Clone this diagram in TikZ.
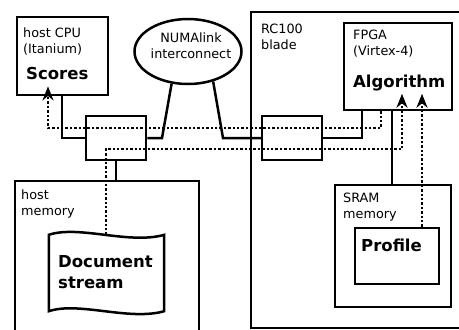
\documentclass[tikz,border=0pt]{standalone}
\usepackage{fontspec}
\setmainfont{DejaVu Sans}
\usetikzlibrary{shapes.geometric,arrows.meta,calc}
\begin{document}
\begin{tikzpicture}[x=1pt,y=-1pt,
  box/.style={draw, line width=2.5pt, rectangle, inner sep=0pt},
  txt/.style={font=\fontsize{12.8}{16}\selectfont, align=left, anchor=base west, inner sep=0pt},
  big/.style={font=\fontsize{16.5}{21}\selectfont\bfseries, align=left, anchor=base west, inner xsep=0pt, inner ysep=0pt},
  wire/.style={line width=2.5pt},
  dotline/.style={line width=2.7pt, dash pattern=on 2.4pt off 2pt},
  tip/.style={-{Stealth[length=14pt,width=11pt,inset=4.5pt]}}]
\useasboundingbox (0,0) rectangle (459,330);
\clip (0,0) rectangle (459,330);
% boxes
\node[box, minimum width=215pt, minimum height=316pt] (rc) at (358.5,170) {};
\node[box, minimum width=91pt, minimum height=78pt] (cpu) at (62.5,56) {};
\node[draw, ellipse, line width=2.5pt, minimum width=107pt, minimum height=65pt, inner sep=0pt] (numa) at (188,51.5) {};
\node[box, minimum width=60pt, minimum height=44pt] (lsw) at (116,138) {};
\node[box, minimum width=60pt, minimum height=44pt] (rsw) at (292,138) {};
\node[box, minimum width=108pt, minimum height=87pt] (fpga) at (398,66.5) {};
\node[box, minimum width=184pt, minimum height=159pt] (hostmem) at (107,260.5) {};
\node[box, minimum width=116pt, minimum height=122pt] (sram) at (393,246) {};
\node[box, minimum width=84pt, minimum height=56pt] (profile) at (397,256) {};
\node[rectangle, inner sep=0pt, minimum width=115pt, minimum height=76pt] (doc) at (106.5,273) {};
\draw[wire] (doc.north west) .. controls +(30,-10) and +(-35,10) .. (doc.north east)
  -- (doc.south east) .. controls +(-35,10) and +(30,-10) .. (doc.south west) -- cycle;
% texts
\node[txt] (cpulbl) at (23,53) {host CPU\\(Itanium)};
\node[big, inner ysep=7pt] (scores) at (26,79) {Scores};
\node[txt, align=center, anchor=center] (numatxt) at (191,46) {NUMAlink\\interconnect};
\node[txt] (rclbl) at (261,49) {RC100\\blade};
\node[txt] (fpgalbl) at (353,55) {FPGA\\(Virtex-4)};
\node[big, inner ysep=3pt] (alg) at (353,87) {Algorithm};
\node[txt] (hmlbl) at (21,215) {host\\memory};
\node[big] (doctxt) at (58,288) {Document\\stream};
\node[txt] (sramlbl) at (343,218) {SRAM\\memory};
\node[big] (proftxt) at (361,251) {Profile};
% routing coordinates
\coordinate (xa) at (62,0);
\coordinate (xb) at (162,0);
\coordinate (xc) at (223,0);
\coordinate (xd) at (362,0);
\coordinate (xe) at (392,0);
\coordinate (xf) at (381,0);
\coordinate (xg) at (48,0);
\coordinate (xh) at (106,0);
\coordinate (xi) at (402,0);
\coordinate (xj) at (422,0);
\coordinate (ya) at (0,128);
\coordinate (yb) at (0,149);
% solid wires
\draw[wire] (cpu.south -| xa) |- (lsw.west);
\draw[wire] (lsw.east) -- (lsw.east -| xb) -- (numa.243);
\draw[wire] (numa.310) -- (rsw.west -| xc) -- (rsw.west);
\draw[wire] (rsw.east) -| (fpga.south -| xd);
\draw[wire] (lsw.south) -- (lsw.south |- hostmem.north);
\draw[wire] (fpga.south -| xe) -- (sram.north -| xe);
% dotted data paths
\draw[dotline, tip] (fpga.south -| xf) -- (xf |- ya) -- (xg |- ya) -- (scores.south -| xg);
\draw[dotline, tip] (xh |- doc.north) -- (xh |- yb) -- (xi |- yb) -- (alg.south -| xi);
\draw[dotline, tip] (profile.north -| xj) -- (alg.south -| xj);
\end{tikzpicture}
\end{document}
